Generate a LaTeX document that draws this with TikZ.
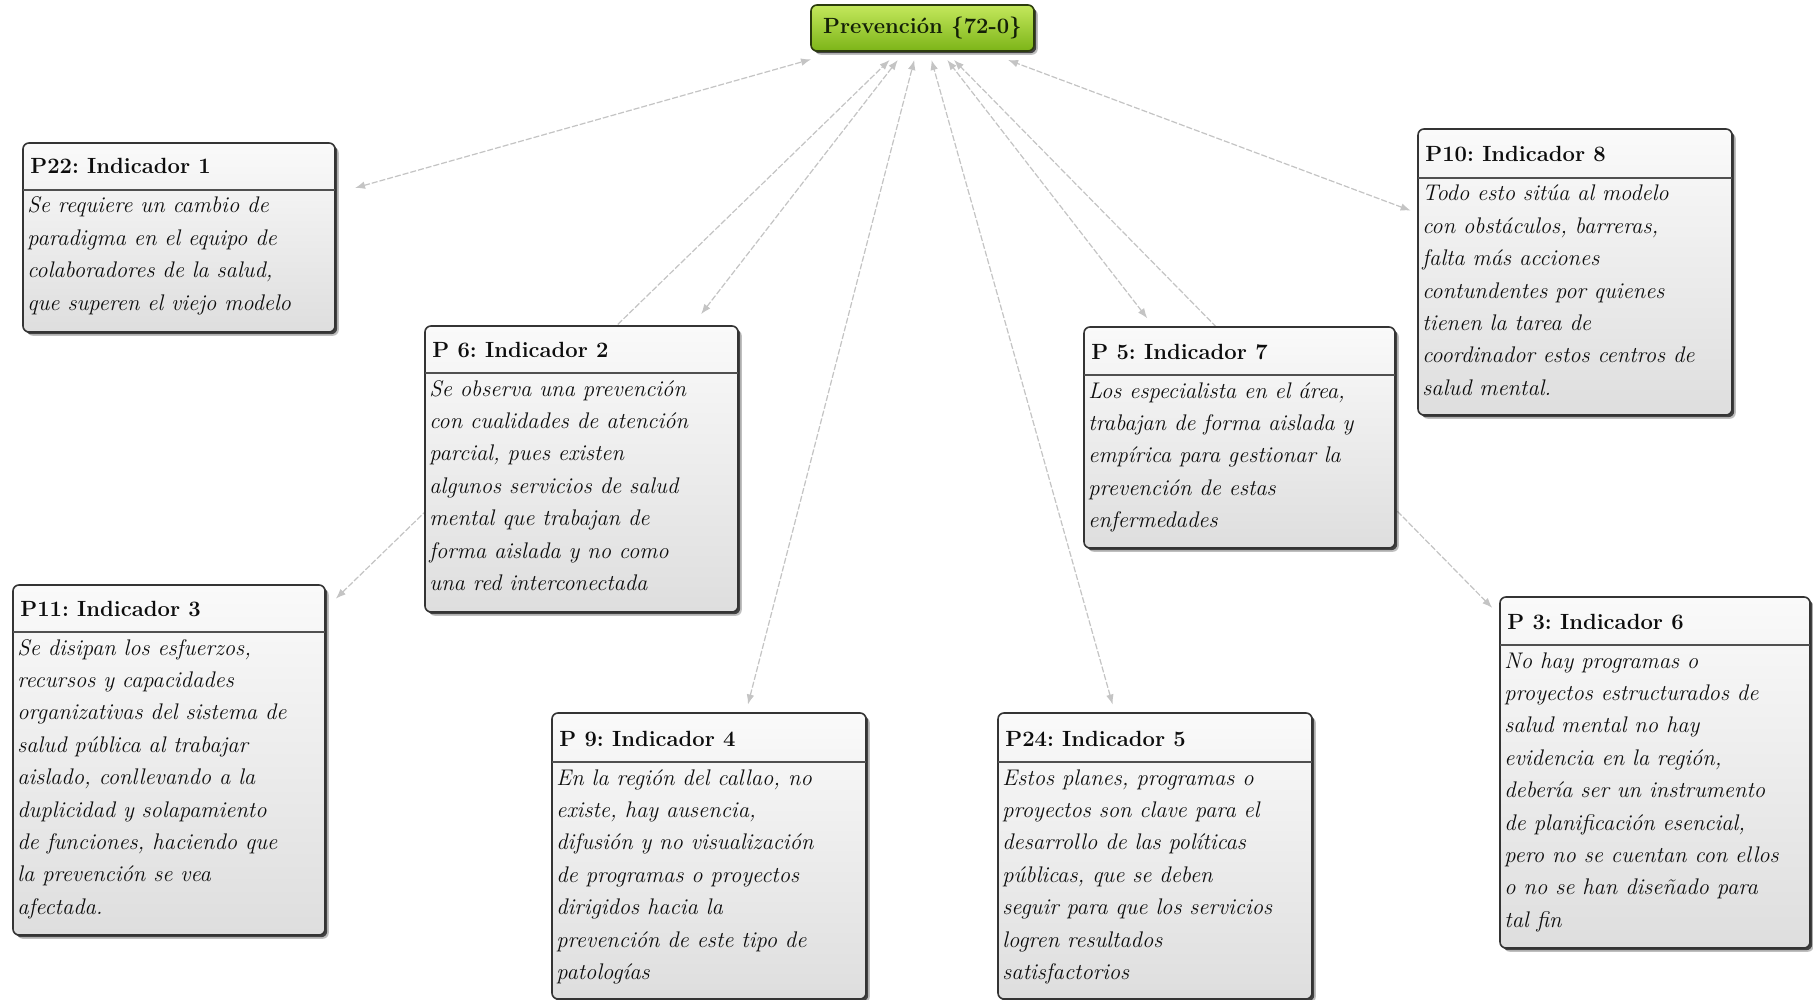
\documentclass[tikz,border=0pt]{standalone}
\usepackage{fontspec}
\usetikzlibrary{fit,shadows,backgrounds,arrows.meta}
\frenchspacing

\definecolor{boxtop}{RGB}{250,250,250}
\definecolor{boxbot}{RGB}{222,222,222}
\definecolor{boxline}{RGB}{52,52,52}
\definecolor{rulegray}{RGB}{80,80,80}
\definecolor{linkgray}{RGB}{196,196,196}
\definecolor{rootA}{RGB}{196,232,92}
\definecolor{rootB}{RGB}{124,180,24}
\definecolor{rootline}{RGB}{44,60,14}
\definecolor{roottext}{RGB}{20,32,8}

\newcommand\bodyfont{\fontsize{11.3pt}{16.2pt}\selectfont\itshape}
\newcommand\headfont{\fontsize{11pt}{13pt}\selectfont\bfseries}

\tikzset{
  x=0.5pt, y=-0.5pt,
  cardbox/.style={draw=boxline, line width=0.8pt, rounded corners=3pt,
    top color=boxtop, bottom color=boxbot, inner sep=0pt,
    drop shadow={shadow xshift=1.9pt, shadow yshift=-1.9pt, opacity=0.25, fill=black},
    drop shadow={shadow xshift=1.1pt, shadow yshift=-1.1pt, opacity=0.65, fill=black}},
  cardrule/.style={draw=rulegray, line width=0.8pt},
  cardtitle/.style={anchor=base west, inner sep=0pt, font=\headfont, text=black!95},
  cardbody/.style={anchor=base west, inner sep=0pt, text=black!95},
  rootbox/.style={draw=rootline, line width=0.8pt, rounded corners=3pt,
    top color=rootA, bottom color=rootB, text=roottext,
    font=\headfont, minimum width=111.5pt, minimum height=23pt,
    inner sep=0pt, outer xsep=0pt, outer ysep=4.5pt,
    drop shadow={shadow xshift=1.9pt, shadow yshift=-1.9pt, opacity=0.25, fill=black},
    drop shadow={shadow xshift=1.1pt, shadow yshift=-1.1pt, opacity=0.65, fill=black}},
  link/.style={draw=linkgray, line width=0.6pt, dash pattern=on 3pt off 1pt,
    {Latex[length=5pt,width=3.8pt]}-{Latex[length=5pt,width=3.8pt]}},
}

% \card{name}{left}{top}{right}{bottom}{rule y}{title}{body}
\newcommand\card[8]{%
  \node[cardbox, fit={(#2,#3) (#4,#5)}] (#1) {};
  \draw[cardrule] (#2,#6) -- (#4,#6);
  \node[cardtitle] (#1-t) at (#2+7,#6-16) {#7};
  \node[cardbody] (#1-b) at (#2+4,#6+23) {\parbox[t]{200pt}{\bodyfont #8}};
}

\begin{document}
\begin{tikzpicture}
\useasboundingbox (0,0) rectangle (1813,1000);
\begin{scope}[on background layer]
  \fill[white] (0,0) rectangle (1813,1000);
\end{scope}

\node[rootbox] (root) at (922.5,28) {Prevención \{72-0\}};

\card{p22}{23}{143}{335}{332}{190}{P22: Indicador 1}{%
Se requiere un cambio de\\
paradigma en el equipo de\\
colaboradores de la salud,\\
que superen el viejo modelo}

\card{p6}{425}{326}{738}{612}{373}{P 6: Indicador 2}{%
Se observa una prevención\\
con cualidades de atención\\
parcial, pues existen\\
algunos servicios de salud\\
mental que trabajan de\\
forma aislada y no como\\
una red interconectada}

\card{p11}{13}{585}{325}{935}{632}{P11: Indicador 3}{%
Se disipan los esfuerzos,\\
recursos y capacidades\\
organizativas del sistema de\\
salud pública al trabajar\\
aislado, conllevando a la\\
duplicidad y solapamiento\\
de funciones, haciendo que\\
la prevención se vea\\
afectada.}

\card{p9}{552}{713}{866}{999}{762}{P 9: Indicador 4}{%
En la región del callao, no\\
existe, hay ausencia,\\
difusión y no visualización\\
de programas o proyectos\\
dirigidos hacia la\\
prevención de este tipo de\\
patologías}

\card{p24}{998}{713}{1312}{999}{762}{P24: Indicador 5}{%
Estos planes, programas o\\
proyectos son clave para el\\
desarrollo de las políticas\\
públicas, que se deben\\
seguir para que los servicios\\
logren resultados\\
satisfactorios}

\card{p3}{1500}{597}{1810}{948}{645}{P 3: Indicador 6}{%
No hay programas o\\
proyectos estructurados de\\
salud mental no hay\\
evidencia en la región,\\
debería ser un instrumento\\
de planificación esencial,\\
pero no se cuentan con ellos\\
o no se han diseñado para\\
tal fin}

\card{p5}{1084}{327}{1395}{548}{375}{P 5: Indicador 7}{%
Los especialista en el área,\\
trabajan de forma aislada y\\
empírica para gestionar la\\
prevención de estas\\
enfermedades}

\card{p10}{1418}{129}{1732}{415}{178}{P10: Indicador 8}{%
Todo esto sitúa al modelo\\
con obstáculos, barreras,\\
falta más acciones\\
contundentes por quienes\\
tienen la tarea de\\
coordinador estos centros de\\
salud mental.}

% links between every indicator and the central code, drawn behind the cards
\begin{scope}[on background layer]
  \draw[link, shorten <=10pt] (p22) -- (root);
  \draw[link, shorten <=7pt]  (p11) -- (root);
  \draw[link, shorten <=7pt]  (p6)  -- (root);
  \draw[link, shorten <=4pt]  (p9)  -- (root);
  \draw[link, shorten <=4pt]  (p24) -- (root);
  \draw[link, shorten <=5pt]  (p5)  -- (root);
  \draw[link, shorten <=5pt]  (p3)  -- (root);
  \draw[link, shorten <=3.5pt] (p10) -- (root);
\end{scope}
\end{tikzpicture}
\end{document}
